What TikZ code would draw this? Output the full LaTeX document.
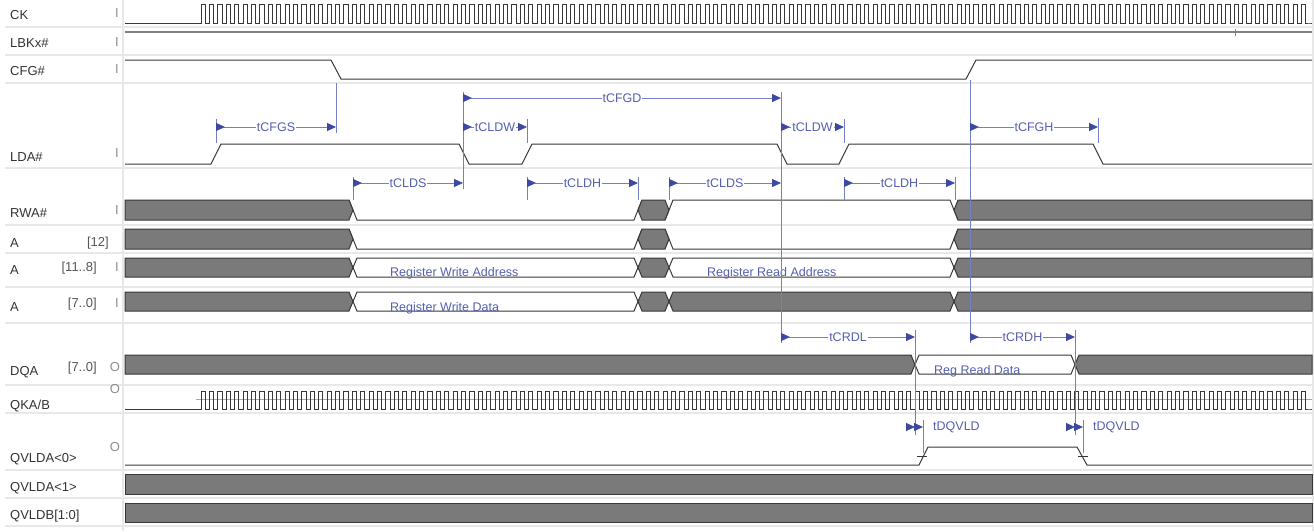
\documentclass[tikz,border=0pt]{standalone}
\usepackage{fontspec}
\setmainfont{Liberation Sans}
\usetikzlibrary{arrows.meta}
\definecolor{sigtext}{HTML}{333333}
\definecolor{idxtext}{HTML}{555555}
\definecolor{iogray}{HTML}{8C8C8C}
\definecolor{wavegray}{HTML}{383838}
\definecolor{busgray}{HTML}{7A7A7A}
\definecolor{lbkgray}{HTML}{808080}
\definecolor{gridgray}{HTML}{E8E8E8}
\definecolor{dimline}{HTML}{7580C4}
\definecolor{dimarrow}{HTML}{3D48A3}
\definecolor{dimtext}{HTML}{5560B2}
\begin{document}
\begin{tikzpicture}%
	[x=1pt, y=-1pt,
	grid/.style={color=gridgray, line width=1.5pt},
	wave/.style={color=wavegray, line width=1pt},
	midline/.style={color=black!35, line width=0.6pt},
	bus/.style={fill=busgray, draw=wavegray, line width=1pt},
	openbus/.style={fill=white, draw=wavegray, line width=1pt},
	lbkline/.style={color=lbkgray, line width=2.2pt},
	tick/.style={color=dimline, line width=0.8pt},
	dim/.style={color=dimline, line width=0.8pt, {Triangle[reversed, length=9pt, width=8pt, color=dimarrow]}-{Triangle[length=9pt, width=8pt, color=dimarrow]}},
	halfdim/.style={color=dimline, line width=0.8pt, -{Triangle[length=9pt, width=8pt, color=dimarrow]}},
	dimlabel/.style={fill=white, inner sep=1pt, text=dimtext, font=\fontsize{12.5}{15}\selectfont},
	buslabel/.style={anchor=base west, inner sep=0pt, text=dimtext, font=\fontsize{12.5}{15}\selectfont},
	signame/.style={anchor=base west, inner sep=0pt, text=sigtext, font=\fontsize{13}{15}\selectfont},
	sigindex/.style={anchor=base east, inner sep=0pt, text=idxtext, font=\fontsize{13}{15}\selectfont},
	iomark/.style={anchor=base, inner sep=0pt, text=iogray, font=\fontsize{13}{15}\selectfont}]

\useasboundingbox (0,0) rectangle (1314,531);

% grid
\foreach \gy in {27,55,83,168,225,253,287,323,385,413,470,498,526}
	\draw[grid] (5,\gy) -- (1314,\gy);
\draw[grid] (123,0) -- (123,531);
\draw[grid] (1313,0) -- (1313,531);

% signal names
\node[signame] (ck-name) at (10,19.5) {CK};
\node[signame] (lbk-name) at (10,47.5) {LBKx\#};
\node[signame] (cfg-name) at (10,75.5) {CFG\#};
\node[signame] (lda-name) at (10,161.5) {LDA\#};
\node[signame] (rwa-name) at (10,217.5) {RWA\#};
\node[signame] (a12-name) at (10,247) {A};
\node[signame] (a118-name) at (10,274.5) {A};
\node[signame] (a70-name) at (10,311.5) {A};
\node[signame] (dqa-name) at (10,375.5) {DQA};
\node[signame] (qk-name) at (10,409.5) {QKA/B};
\node[signame] (qv0-name) at (10,462.5) {QVLDA<0>};
\node[signame] (qv1-name) at (10,491.5) {QVLDA<1>};
\node[signame] (qvb-name) at (10,519.5) {QVLDB[1:0]};

\node[sigindex] (a12-idx) at (109,246.5) {[12]};
\node[sigindex] (a118-idx) at (97,271.5) {[11..8]};
\node[sigindex] (a70-idx) at (97,307.5) {[7..0]};
\node[sigindex] (dqa-idx) at (97,371.5) {[7..0]};

\node[iomark] (ck-io) at (117,17.5) {I};
\node[iomark] (lbk-io) at (117,46.5) {I};
\node[iomark] (cfg-io) at (117,73.5) {I};
\node[iomark] (lda-io) at (117,157.5) {I};
\node[iomark] (rwa-io) at (117,214.5) {I};
\node[iomark] (a118-io) at (117,271.5) {I};
\node[iomark] (a70-io) at (117,307.5) {I};
\node[iomark] (dqa-io) at (115,371.5) {O};
\node[iomark] (qk-io) at (115,393.5) {O};
\node[iomark] (qv0-io) at (115,451.5) {O};

% CK
\draw[wave] (125,23) -- (201,23) \foreach \k in {1,...,132} { -- ++(0,-19) -- ++(4.2,0) -- ++(0,19) -- ++(4.2,0) } -- (1312,23);

% LBKx#
\draw[lbkline] (125,32) -- (1312,32);
\draw[color=lbkgray, line width=0.6pt] (1235,29) -- (1235,36);

% CFG#
\draw[wave] (125,60) -- (331,60) -- (341,79) -- (966,79) -- (976,60) -- (1312,60);

% LDA#
\draw[wave] (125,164) -- (211,164) -- (221,144) -- (459,144) -- (469,164) -- (522,164) -- (532,144)
	-- (777,144) -- (787,164) -- (839,164) -- (849,144) -- (1093,144) -- (1103,164) -- (1312,164);

% RWA#
\draw[wave] (349,200) -- (357,220) -- (634,220) -- (642,200);
\draw[wave] (665,220) -- (673,200) -- (950,200) -- (958,220);
\filldraw[bus] (125,200) -- (349,200) -- (353,210) -- (349,220) -- (125,220) -- cycle;
\filldraw[bus] (638,210) -- (642,200) -- (665,200) -- (669,210) -- (665,220) -- (642,220) -- cycle;
\filldraw[bus] (954,210) -- (958,200) -- (1312,200) -- (1312,220) -- (958,220) -- cycle;

% A[12]
\draw[wave] (349,229) -- (357,249) -- (634,249) -- (642,229);
\draw[wave] (665,229) -- (673,249) -- (950,249) -- (958,229);
\filldraw[bus] (125,229) -- (349,229) -- (353,239) -- (349,249) -- (125,249) -- cycle;
\filldraw[bus] (638,239) -- (642,229) -- (665,229) -- (669,239) -- (665,249) -- (642,249) -- cycle;
\filldraw[bus] (954,239) -- (958,229) -- (1312,229) -- (1312,249) -- (958,249) -- cycle;

% A[11..8]
\filldraw[bus] (125,258) -- (349,258) -- (353,267.5) -- (349,277) -- (125,277) -- cycle;
\filldraw[openbus] (353,267.5) -- (357,258) -- (634,258) -- (638,267.5) -- (634,277) -- (357,277) -- cycle;
\filldraw[bus] (638,267.5) -- (642,258) -- (665,258) -- (669,267.5) -- (665,277) -- (642,277) -- cycle;
\filldraw[openbus] (669,267.5) -- (673,258) -- (950,258) -- (954,267.5) -- (950,277) -- (673,277) -- cycle;
\filldraw[bus] (954,267.5) -- (958,258) -- (1312,258) -- (1312,277) -- (958,277) -- cycle;

% A[7..0]
\filldraw[bus] (125,292) -- (349,292) -- (353,301.5) -- (349,311) -- (125,311) -- cycle;
\filldraw[openbus] (353,301.5) -- (357,292) -- (634,292) -- (638,301.5) -- (634,311) -- (357,311) -- cycle;
\filldraw[bus] (638,301.5) -- (642,292) -- (665,292) -- (669,301.5) -- (665,311) -- (642,311) -- cycle;
\filldraw[bus] (669,301.5) -- (673,292) -- (950,292) -- (954,301.5) -- (950,311) -- (673,311) -- cycle;
\filldraw[bus] (954,301.5) -- (958,292) -- (1312,292) -- (1312,311) -- (958,311) -- cycle;

% DQA
\filldraw[bus] (125,355) -- (911,355) -- (915,364.5) -- (911,374) -- (125,374) -- cycle;
\filldraw[openbus] (915,364.5) -- (919,355) -- (1071,355) -- (1075,364.5) -- (1071,374) -- (919,374) -- cycle;
\filldraw[bus] (1075,364.5) -- (1079,355) -- (1312,355) -- (1312,374) -- (1079,374) -- cycle;

% QKA/B
\draw[midline] (196,399) -- (1312,399);
\draw[wave] (125,409) -- (201,409) \foreach \k in {1,...,132} { -- ++(0,-18) -- ++(4.2,0) -- ++(0,18) -- ++(4.2,0) } -- (1312,409);

% QVLDA<0>
\draw[wave] (125,465) -- (919,465) -- (928,447) -- (1077,447) -- (1087,465) -- (1312,465);
\draw[wave, line width=0.6pt] (917,456) -- (927,456);
\draw[wave, line width=0.6pt] (1078,456) -- (1088,456);

% QVLDA<1>, QVLDB[1:0]
\filldraw[bus] (125,474) rectangle (1312,494);
\filldraw[bus] (125,503) rectangle (1312,522);

% bus texts
\node[buslabel] (wr-addr) at (390,276) {Register Write Address};
\node[buslabel] (rd-addr) at (707,276) {Register Read Address};
\node[buslabel] (wr-data) at (390,311) {Register Write Data};
\node[buslabel] (rd-data) at (934,374) {Reg Read Data};

% extension lines
\draw[tick] (216,119) -- (216,143);
\draw[tick] (336,83) -- (336,133);
\draw[tick] (463,92) -- (463,189);
\draw[tick] (527,119) -- (527,143);
\draw[tick] (527,177) -- (527,200);
\draw[tick] (353,177) -- (353,200);
\draw[tick] (638,177) -- (638,200);
\draw[tick] (669,177) -- (669,200);
\draw[tick] (781,92) -- (781,343);
\draw[tick] (844,119) -- (844,143);
\draw[tick] (844,177) -- (844,200);
\draw[tick] (955,177) -- (955,200);
\draw[tick] (970,80) -- (970,343);
\draw[tick] (1098,118) -- (1098,143);
\draw[tick] (915,330) -- (915,435);
\draw[tick] (923,420) -- (923,453);
\draw[tick] (1075,330) -- (1075,435);
\draw[tick] (1083,420) -- (1083,453);

% timing arrows
\coordinate (cfgs-a) at (216,127);
\coordinate (cfgs-b) at (336,127);
\coordinate (cfgd-a) at (463,98);
\coordinate (cfgd-b) at (781,98);
\coordinate (cldw1-a) at (463,127);
\coordinate (cldw1-b) at (527,127);
\coordinate (cldw2-a) at (781,127);
\coordinate (cldw2-b) at (844,127);
\coordinate (cfgh-a) at (970,127);
\coordinate (cfgh-b) at (1098,127);
\coordinate (clds1-a) at (353,183);
\coordinate (clds1-b) at (463,183);
\coordinate (cldh1-a) at (527,183);
\coordinate (cldh1-b) at (638,183);
\coordinate (clds2-a) at (669,183);
\coordinate (clds2-b) at (781,183);
\coordinate (cldh2-a) at (844,183);
\coordinate (cldh2-b) at (955,183);
\coordinate (crdl-a) at (781,337);
\coordinate (crdl-b) at (915,337);
\coordinate (crdh-a) at (970,337);
\coordinate (crdh-b) at (1075,337);
\coordinate (dqvld1-o) at (906,427);
\coordinate (dqvld1-a) at (915,427);
\coordinate (dqvld1-b) at (923,427);
\coordinate (dqvld2-o) at (1066,427);
\coordinate (dqvld2-a) at (1075,427);
\coordinate (dqvld2-b) at (1083,427);

\draw[dim] (cfgs-a) -- node[dimlabel] (cfgs-txt) {tCFGS} (cfgs-b);
\draw[dim] (cfgd-a) -- node[dimlabel] (cfgd-txt) {tCFGD} (cfgd-b);
\draw[dim] (cldw1-a) -- node[dimlabel] (cldw1-txt) {tCLDW} (cldw1-b);
\draw[dim] (cldw2-a) -- node[dimlabel] (cldw2-txt) {tCLDW} (cldw2-b);
\draw[dim] (cfgh-a) -- node[dimlabel] (cfgh-txt) {tCFGH} (cfgh-b);
\draw[dim] (clds1-a) -- node[dimlabel] (clds1-txt) {tCLDS} (clds1-b);
\draw[dim] (cldh1-a) -- node[dimlabel] (cldh1-txt) {tCLDH} (cldh1-b);
\draw[dim] (clds2-a) -- node[dimlabel] (clds2-txt) {tCLDS} (clds2-b);
\draw[dim] (cldh2-a) -- node[dimlabel] (cldh2-txt) {tCLDH} (cldh2-b);
\draw[dim] (crdl-a) -- node[dimlabel] (crdl-txt) {tCRDL} (crdl-b);
\draw[dim] (crdh-a) -- node[dimlabel] (crdh-txt) {tCRDH} (crdh-b);

\draw[halfdim] (dqvld1-o) -- (dqvld1-a);
\draw[halfdim] (dqvld1-a) -- (dqvld1-b);
\node[dimlabel, anchor=west, fill=none] (dqvld1-txt) at (932,427) {tDQVLD};
\draw[halfdim] (dqvld2-o) -- (dqvld2-a);
\draw[halfdim] (dqvld2-a) -- (dqvld2-b);
\node[dimlabel, anchor=west, fill=none] (dqvld2-txt) at (1092,427) {tDQVLD};
\end{tikzpicture}
\end{document}
